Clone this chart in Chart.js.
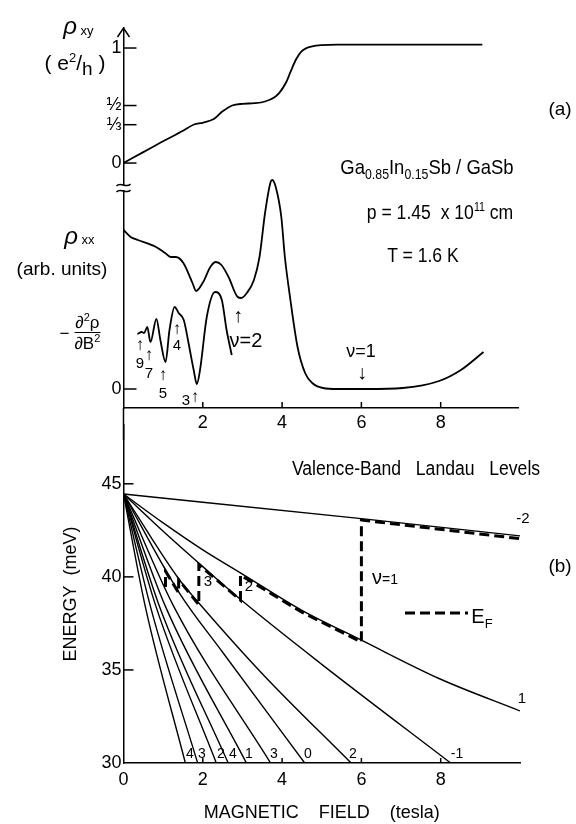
<!DOCTYPE html>
<html>
<head>
<meta charset="utf-8">
<title>GaInSb / GaSb Landau levels</title>
<script src="https://cdn.jsdelivr.net/npm/chart.js@4.4.1/dist/chart.umd.min.js"></script>
<style>
  html, body { margin: 0; padding: 0; background: #fff; }
  #fig { position: relative; width: 576px; height: 824px; overflow: hidden;
         font-family: "Liberation Sans", Arial, sans-serif; color: #000; }
  #fig canvas { position: absolute; left: 0; }
  .t { position: absolute; white-space: pre; line-height: 1; transform: translate(-50%, -50%); }
  .n { transform: translate(-50%, -50%) scaleX(0.88); }
  .ar { font-weight: bold; font-size: 17px; }
  sub, sup { line-height: 0; }
  .fr { display: inline-block; vertical-align: middle; text-align: center; }
  .fr span { display: block; }
</style>
</head>
<body>
<div id="fig">
  <canvas id="panelA" width="576" height="440" style="top:0"></canvas>
  <canvas id="panelB" width="576" height="412" style="top:412px"></canvas>

  <!-- panel (a) labels -->
  <div class="t" style="left:70px;top:26px;font-size:24px;font-style:italic">ρ</div>
  <div class="t" style="left:87px;top:30px;font-size:13px">xy</div>
  <div class="t" style="left:75px;top:62px;font-size:21px">( e<sup style="font-size:13px">2</sup>/<sub style="font-size:19px">h</sub> )</div>
  <div class="t" style="left:71px;top:236px;font-size:24px;font-style:italic">ρ</div>
  <div class="t" style="left:88px;top:239px;font-size:13px">xx</div>
  <div class="t" style="left:62px;top:268px;font-size:19px">(arb. units)</div>
  <div class="t" style="left:80px;top:333px;font-size:17px"><span style="vertical-align:middle">− </span><span class="fr"><span style="border-bottom:1.5px solid #000;padding:0 1px 1px">∂<sup style="font-size:11px">2</sup>ρ</span><span style="padding-top:2px">∂B<sup style="font-size:11px">2</sup></span></span></div>
  <div class="t" style="left:560px;top:108px;font-size:19px">(a)</div>
  <div class="t n" style="left:427px;top:166px;font-size:21px">Ga<sub style="font-size:14px">0.85</sub>In<sub style="font-size:14px">0.15</sub>Sb / GaSb</div>
  <div class="t n" style="left:440px;top:212px;font-size:20px">p = 1.45  x 10<sup style="font-size:12px">11</sup> cm</div>
  <div class="t n" style="left:423px;top:255px;font-size:20px">T = 1.6 K</div>
  <div class="t ar" style="left:140px;top:344px">↑</div>
  <div class="t" style="left:140px;top:362px;font-size:15px">9</div>
  <div class="t ar" style="left:149px;top:354px">↑</div>
  <div class="t" style="left:149px;top:372px;font-size:15px">7</div>
  <div class="t ar" style="left:163px;top:374px">↑</div>
  <div class="t" style="left:163px;top:392px;font-size:15px">5</div>
  <div class="t ar" style="left:177px;top:328px">↑</div>
  <div class="t" style="left:177px;top:344px;font-size:15px">4</div>
  <div class="t ar" style="left:195px;top:396px">↑</div>
  <div class="t" style="left:186px;top:399px;font-size:15px">3</div>
  <div class="t ar" style="left:238px;top:315px;font-size:20px">↑</div>
  <div class="t" style="left:246px;top:340px;font-size:20px">ν=2</div>
  <div class="t" style="left:361px;top:351px;font-size:18px">ν=1</div>
  <div class="t ar" style="left:362px;top:372px;font-size:20px">↓</div>

  <!-- panel (b) labels -->
  <div class="t n" style="left:416px;top:468px;font-size:20px">Valence-Band   Landau   Levels</div>
  <div class="t" style="left:523px;top:517px;font-size:15px">-2</div>
  <div class="t" style="left:560px;top:565px;font-size:19px">(b)</div>
  <div class="t" style="left:385px;top:577px;font-size:20px">ν<span style="font-size:14px">=1</span></div>
  <div class="t" style="left:482px;top:616px;font-size:20px">E<sub style="font-size:13px">F</sub></div>
  <div class="t" style="left:522px;top:697px;font-size:15px">1</div>
  <div class="t" style="left:208px;top:580px;font-size:15px">3</div>
  <div class="t" style="left:249px;top:585px;font-size:15px">2</div>
  <div class="t" style="left:190px;top:753px;font-size:14px">4</div>
  <div class="t" style="left:202px;top:753px;font-size:14px">3</div>
  <div class="t" style="left:221px;top:753px;font-size:14px">2</div>
  <div class="t" style="left:233px;top:753px;font-size:14px">4</div>
  <div class="t" style="left:249px;top:753px;font-size:14px">1</div>
  <div class="t" style="left:274px;top:753px;font-size:14px">3</div>
  <div class="t" style="left:308px;top:753px;font-size:14px">0</div>
  <div class="t" style="left:353px;top:753px;font-size:14px">2</div>
  <div class="t" style="left:457px;top:753px;font-size:14px">-1</div>
</div>

<script>
const FONT = '"Liberation Sans", Arial, sans-serif';

// panel (a): magnetotransport
const rhoXyField = [0, 0.5, 1.0, 1.5, 1.78, 2.0, 2.29, 2.5, 2.74, 3.0, 3.3, 3.57, 3.8, 3.93, 4.1, 4.21, 4.35, 4.49, 4.62, 4.76, 5.0, 5.4, 6, 7, 8, 9.05];
const rhoXyValue = [0, 0.095, 0.19, 0.28, 0.335, 0.35, 0.385, 0.45, 0.5, 0.515, 0.52, 0.535, 0.57, 0.61, 0.7, 0.79, 0.9, 0.97, 1.0, 1.015, 1.025, 1.03, 1.03, 1.03, 1.03, 1.03];

const rhoXxField = [0, 0.18, 0.36, 0.82, 1.05, 1.19, 1.32, 1.51, 1.74, 1.83, 2.01, 2.19, 2.33, 2.47, 2.65, 2.88, 2.97, 3.11, 3.29, 3.43, 3.57, 3.71, 3.75, 3.84, 3.98, 4.07, 4.21, 4.39, 4.58, 4.76, 5.03, 5.4, 6.13, 7.04, 7.96, 8.51, 9.08];
const rhoXxValue = [1.59, 1.52, 1.49, 1.42, 1.36, 1.32, 1.32, 1.26, 1.06, 0.98, 1.07, 1.22, 1.27, 1.24, 1.12, 0.92, 0.91, 0.96, 1.09, 1.32, 1.76, 2.07, 2.09, 2.02, 1.72, 1.32, 0.89, 0.42, 0.16, 0.06, 0.01, 0.0, 0.0, 0.01, 0.08, 0.19, 0.37];

const d2Field = [0.35, 0.46, 0.52, 0.6, 0.68, 0.83, 0.93, 1.06, 1.16, 1.29, 1.39, 1.52, 1.64, 1.77, 1.85, 1.93, 2.1, 2.31, 2.48, 2.6, 2.73];
const d2Value = [0.55, 0.57, 0.56, 0.62, 0.47, 0.7, 0.49, 0.27, 0.59, 0.82, 0.76, 0.69, 0.46, 0.19, 0.05, 0.19, 0.72, 0.97, 0.89, 0.59, 0.34];

const xyTicks = [0, 1 / 3, 1 / 2, 1];
const xyTickLabels = ['0', '⅓', '½', '1'];
const xxTicks = [0];
const fieldTicksA = [2, 4, 6, 8];

// panel (b): valence band Landau levels, [B (T), E (meV)]
const levelM2 = [[0, 44.45], [6, 43.13], [10, 42.2]];
const level1b = [[0, 44.45], [1, 42.9], [2, 41.45], [3, 40.15], [4.5, 38.2], [6, 36.6], [8, 34.5], [10, 32.8]];
const levelM1 = [[0, 44.45], [1, 42.45], [2, 40.55], [3, 38.7], [5, 35.3], [8.25, 30]];
const level2b = [[0, 44.45], [1.39, 39.9], [1.9, 38.6], [3.5, 34.8], [5.74, 30]];
const level0 = [[0, 44.45], [1.39, 39.2], [2.5, 35.95], [4.57, 30]];
const level3b = [[0, 44.45], [1.27, 38.4], [3.71, 30]];
const level1a = [[0, 44.45], [1.06, 38.4], [3.1, 30]];
const level4b = [[0, 44.45], [0.91, 38.4], [2.64, 30]];
const level2a = [[0, 44.45], [0.82, 38.4], [2.34, 30]];
const level3a = [[0, 44.45], [0.68, 38.4], [1.87, 30]];
const level4a = [[0, 44.45], [0.55, 38.4], [1.56, 30]];
const fermiLevel = [[1.06, 39.45], [1.06, 40.3], [1.39, 39.15], [1.39, 39.85], [1.9, 38.5], [1.9, 40.65],
                    [2.95, 38.75], [2.95, 40.1], [4.5, 38.1], [6, 36.5], [6, 43.05], [10, 42.05]];
const energyTicks = [30, 35, 40, 45];
const fieldTicksB = [0, 2, 4, 6, 8];

const pts = (xs, ys) => xs.map((x, i) => ({ x, y: ys[i] }));
const pairs = a => a.map(([x, y]) => ({ x, y }));
const tickFont = { family: FONT, size: 18 };
const noGrid = { display: false, drawTicks: false };
const axisLine = { color: '#000', width: 1.5 };

function line(ctx, x1, y1, x2, y2) {
  ctx.beginPath(); ctx.moveTo(x1, y1); ctx.lineTo(x2, y2); ctx.stroke();
}

// ---------- panel (a) ----------
const decoA = {
  id: 'decoA',
  afterDraw(chart) {
    const { ctx, chartArea: a, scales } = chart;
    ctx.save();
    ctx.strokeStyle = '#000';
    ctx.lineWidth = 1.5;
    for (const v of xyTicks) { const y = scales.yTop.getPixelForValue(v); line(ctx, a.left, y, a.left + 13, y); }
    for (const v of xxTicks) { const y = scales.yBot.getPixelForValue(v); line(ctx, a.left, y, a.left + 13, y); }
    for (const v of fieldTicksA) { const x = scales.x.getPixelForValue(v); line(ctx, x, a.bottom, x, a.bottom - 6); }
    // axis arrow
    ctx.beginPath();
    ctx.moveTo(a.left - 6, a.top + 9); ctx.lineTo(a.left, a.top); ctx.lineTo(a.left + 6, a.top + 9);
    ctx.stroke();
    // axis continues down into panel (b)
    line(ctx, a.left, a.bottom, a.left, chart.height);
    // axis break
    const yb = scales.yTop.bottom;
    ctx.fillStyle = '#fff';
    ctx.fillRect(a.left - 3, yb - 2, 6, 4);
    for (const dy of [-3, 3]) {
      ctx.beginPath();
      ctx.moveTo(a.left - 7, yb + dy + 1);
      ctx.bezierCurveTo(a.left - 3, yb + dy - 4, a.left + 3, yb + dy + 4, a.left + 7, yb + dy - 1);
      ctx.stroke();
    }
    ctx.restore();
  }
};

new Chart(document.getElementById('panelA'), {
  type: 'line',
  data: {
    datasets: [
      { data: pts(rhoXyField, rhoXyValue), yAxisID: 'yTop', clip: false },
      { data: pts(rhoXxField, rhoXxValue), yAxisID: 'yBot', clip: false },
      { data: pts(d2Field, d2Value), yAxisID: 'yBot', clip: false }
    ]
  },
  options: {
    responsive: false, animation: false, devicePixelRatio: 1,
    layout: { padding: { left: 0, right: 58, top: 28, bottom: 0 } },
    plugins: { legend: { display: false }, tooltip: { enabled: false } },
    elements: {
      point: { radius: 0 },
      line: { borderColor: '#000', borderWidth: 1.8, cubicInterpolationMode: 'monotone' }
    },
    scales: {
      x: {
        type: 'linear', position: 'bottom', min: 0, max: 9.95,
        afterBuildTicks: s => { s.ticks = fieldTicksA.map(v => ({ value: v })); },
        afterFit: s => { s.height = 32; },
        grid: noGrid, border: axisLine,
        ticks: { color: '#000', font: tickFont, padding: 4, maxRotation: 0, autoSkip: false }
      },
      yTop: {
        type: 'linear', position: 'left', stack: 'rho', stackWeight: 160, weight: 1,
        min: -0.217, max: 1.174,
        afterBuildTicks: s => { s.ticks = xyTicks.map(v => ({ value: v })); },
        afterFit: s => { s.width = 123.5; },
        grid: noGrid, border: axisLine,
        ticks: { color: '#000', font: tickFont, padding: 2, autoSkip: false, callback: (v, i) => xyTickLabels[i] }
      },
      yBot: {
        type: 'linear', position: 'left', stack: 'rho', stackWeight: 220, weight: 0,
        min: -0.19, max: 2.01,
        afterBuildTicks: s => { s.ticks = xxTicks.map(v => ({ value: v })); },
        afterFit: s => { s.width = 123.5; },
        grid: noGrid, border: axisLine,
        ticks: { color: '#000', font: tickFont, padding: 2, callback: v => String(v) }
      }
    }
  },
  plugins: [decoA]
});

// ---------- panel (b) ----------
const decoB = {
  id: 'decoB',
  afterDraw(chart) {
    const { ctx, chartArea: a, scales } = chart;
    ctx.save();
    ctx.strokeStyle = '#000';
    ctx.lineWidth = 1.5;
    for (const v of energyTicks.slice(1)) { const y = scales.y.getPixelForValue(v); line(ctx, a.left, y, a.left + 10, y); }
    for (const v of fieldTicksB.slice(1)) { const x = scales.x.getPixelForValue(v); line(ctx, x, a.bottom, x, a.bottom - 5); }
    // E_F legend sample
    ctx.lineWidth = 3;
    ctx.setLineDash([10, 5]);
    line(ctx, 405, 201, 468, 201);
    ctx.restore();
  }
};

const levels = [levelM2, level1b, levelM1, level2b, level0, level3b, level1a, level4b, level2a, level3a, level4a];

new Chart(document.getElementById('panelB'), {
  type: 'line',
  data: {
    datasets: [
      { data: pairs(fermiLevel), borderWidth: 3, borderDash: [10, 5], cubicInterpolationMode: 'default', tension: 0 },
      ...levels.map(l => ({ data: pairs(l) }))
    ]
  },
  options: {
    responsive: false, animation: false, devicePixelRatio: 1,
    layout: { padding: { left: 0, right: 56, top: 0, bottom: 0 } },
    plugins: { legend: { display: false }, tooltip: { enabled: false } },
    elements: {
      point: { radius: 0 },
      line: { borderColor: '#000', borderWidth: 1.4, cubicInterpolationMode: 'monotone' }
    },
    scales: {
      x: {
        type: 'linear', position: 'bottom', min: 0, max: 10,
        afterBuildTicks: s => { s.ticks = fieldTicksB.map(v => ({ value: v })); },
        afterFit: s => { s.height = 61; },
        grid: noGrid, border: axisLine,
        ticks: { color: '#000', font: tickFont, padding: 6, maxRotation: 0, autoSkip: false },
        title: { display: true, text: 'MAGNETIC    FIELD    (tesla)', color: '#000', font: tickFont, padding: 0 }
      },
      y: {
        type: 'linear', position: 'left', min: 30, max: 48.17,
        afterBuildTicks: s => { s.ticks = energyTicks.map(v => ({ value: v })); },
        afterFit: s => { s.width = 123.5; },
        grid: noGrid, border: axisLine,
        ticks: { color: '#000', font: tickFont, padding: 2, autoSkip: false },
        title: { display: true, text: 'ENERGY  (meV)', color: '#000', font: tickFont, padding: { top: 60 } }
      }
    }
  },
  plugins: [decoB]
});
</script>
</body>
</html>
